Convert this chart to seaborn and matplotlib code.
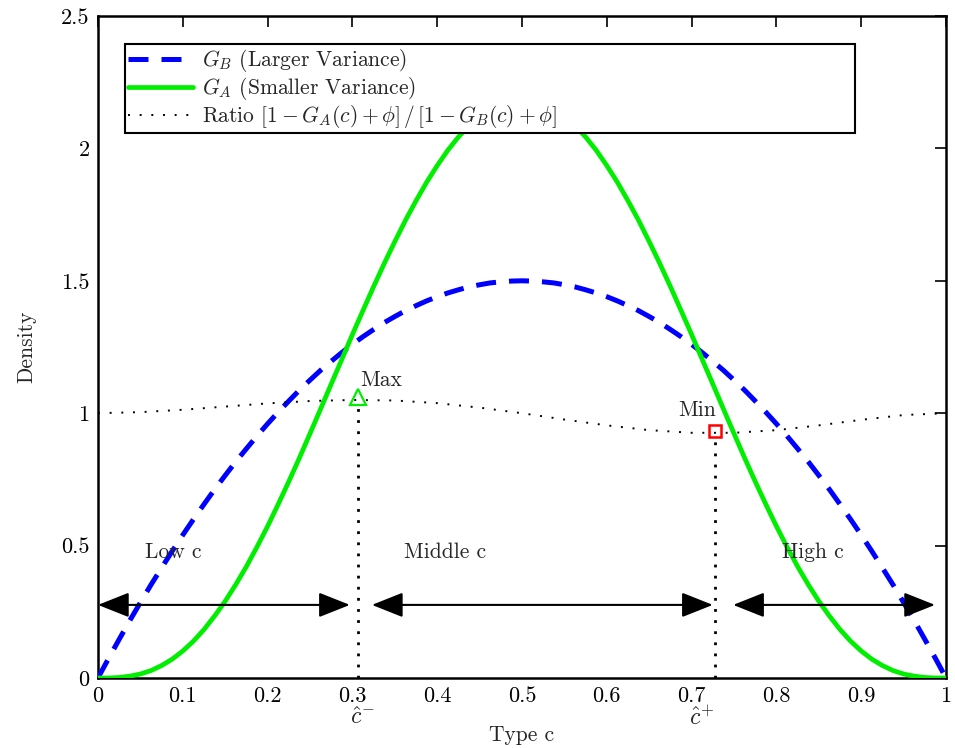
import matplotlib
matplotlib.use("Agg")
import matplotlib.pyplot as plt
import pandas as pd
import seaborn as sns

# grid of types c
c_grid = [0.0, 0.0125, 0.025, 0.0375, 0.05, 0.0625, 0.075, 0.0875, 0.1, 0.1125,
          0.125, 0.1375, 0.15, 0.1625, 0.175, 0.1875, 0.2, 0.2125, 0.225, 0.2375,
          0.25, 0.2625, 0.275, 0.2875, 0.3, 0.3125, 0.325, 0.3375, 0.35, 0.3625,
          0.375, 0.3875, 0.4, 0.4125, 0.425, 0.4375, 0.45, 0.4625, 0.475, 0.4875,
          0.5, 0.5125, 0.525, 0.5375, 0.55, 0.5625, 0.575, 0.5875, 0.6, 0.6125,
          0.625, 0.6375, 0.65, 0.6625, 0.675, 0.6875, 0.7, 0.7125, 0.725, 0.7375,
          0.75, 0.7625, 0.775, 0.7875, 0.8, 0.8125, 0.825, 0.8375, 0.85, 0.8625,
          0.875, 0.8875, 0.9, 0.9125, 0.925, 0.9375, 0.95, 0.9625, 0.975, 0.9875, 1.0]

# G_B density (larger variance)
gb_density = [0.0, 0.074, 0.146, 0.217, 0.285, 0.352, 0.416, 0.479, 0.540, 0.599,
              0.656, 0.712, 0.765, 0.817, 0.866, 0.914, 0.960, 1.004, 1.046, 1.087,
              1.125, 1.162, 1.196, 1.229, 1.260, 1.289, 1.316, 1.342, 1.365, 1.387,
              1.406, 1.424, 1.440, 1.454, 1.466, 1.477, 1.485, 1.492, 1.496, 1.499,
              1.500, 1.499, 1.496, 1.492, 1.485, 1.477, 1.466, 1.454, 1.440, 1.424,
              1.406, 1.387, 1.365, 1.342, 1.316, 1.289, 1.260, 1.229, 1.196, 1.162,
              1.125, 1.087, 1.046, 1.004, 0.960, 0.914, 0.866, 0.817, 0.765, 0.712,
              0.656, 0.599, 0.540, 0.479, 0.416, 0.352, 0.285, 0.217, 0.146, 0.074, 0.0]

# G_A density (smaller variance)
ga_density = [0.0, 0.000, 0.002, 0.007, 0.015, 0.028, 0.047, 0.071, 0.102, 0.139,
              0.183, 0.234, 0.290, 0.353, 0.421, 0.495, 0.573, 0.656, 0.742, 0.831,
              0.923, 1.016, 1.110, 1.203, 1.297, 1.388, 1.478, 1.565, 1.648, 1.728,
              1.802, 1.872, 1.935, 1.993, 2.043, 2.087, 2.123, 2.151, 2.171, 2.183,
              2.188, 2.183, 2.171, 2.151, 2.123, 2.087, 2.043, 1.993, 1.935, 1.872,
              1.802, 1.728, 1.648, 1.565, 1.478, 1.388, 1.297, 1.203, 1.110, 1.016,
              0.923, 0.831, 0.742, 0.656, 0.573, 0.495, 0.421, 0.353, 0.290, 0.234,
              0.183, 0.139, 0.102, 0.071, 0.047, 0.028, 0.015, 0.007, 0.002, 0.000, 0.0]

# ratio curve
ratio_c = [0.0, 0.05, 0.1, 0.15, 0.2, 0.25, 0.3, 0.35, 0.4, 0.45, 0.5,
           0.55, 0.6, 0.65, 0.7, 0.75, 0.8, 0.85, 0.9, 0.95, 1.0]
ratio_vals = [1.000, 1.004, 1.013, 1.025, 1.037, 1.046, 1.050, 1.048, 1.038, 1.021, 1.000,
              0.976, 0.954, 0.936, 0.926, 0.926, 0.936, 0.954, 0.975, 0.993, 1.000]

max_point = (0.307, 1.061)
min_point = (0.727, 0.931)

regions = ["Low c", "Middle c", "High c"]
region_text_x = [0.055, 0.361, 0.807]
arrow_spans = [(0.0, 0.297), (0.323, 0.725), (0.749, 0.987)]

sns.set_theme(style="white")
plt.rcParams["font.family"] = ["cmr10", "DejaVu Serif"]
plt.rcParams["mathtext.fontset"] = "cm"
plt.rcParams["axes.formatter.use_mathtext"] = True
plt.rcParams["axes.unicode_minus"] = False

fs = 15.5

fig = plt.figure(figsize=(9.55, 7.48), dpi=100)
ax = fig.add_axes([0.1026, 0.0936, 0.888, 0.885])

df_b = pd.DataFrame({"c": c_grid, "density": gb_density})
df_a = pd.DataFrame({"c": c_grid, "density": ga_density})
df_r = pd.DataFrame({"c": ratio_c, "ratio": ratio_vals})

sns.lineplot(data=df_b, x="c", y="density", ax=ax, color="#0000ff", lw=3.6,
             label="$G_B$ (Larger Variance)", zorder=3)
sns.lineplot(data=df_a, x="c", y="density", ax=ax, color="#00ee00", lw=3.4,
             label="$G_A$ (Smaller Variance)", zorder=3)
sns.lineplot(data=df_r, x="c", y="ratio", ax=ax, color="black", lw=1.4,
             label=r"Ratio $[1-G_A(c)+\phi]\,/\,[1-G_B(c)+\phi]$", zorder=3)

lines = ax.get_lines()
lines[0].set_dashes((4, 2.6))
lines[0].set_dash_capstyle("butt")
lines[2].set_dashes((1, 5))

# vertical markers for cutoffs
ax.plot([max_point[0], max_point[0]], [0, max_point[1] - 0.03], color="black",
        lw=2, dashes=(1, 3), zorder=4)
ax.plot([min_point[0], min_point[0]], [0, min_point[1] - 0.02], color="black",
        lw=2, dashes=(1, 3), zorder=4)
ax.plot(*max_point, marker="^", ms=11, mfc="none", mec="#00ee00", mew=1.6, zorder=5)
ax.plot(*min_point, marker="s", ms=9, mfc="none", mec="red", mew=1.8, zorder=5)
ax.text(0.309, 1.125, "Max", fontsize=fs, ha="left", va="center")
ax.text(0.729, 1.012, "Min", fontsize=fs, ha="right", va="center")

# region arrows and labels
for (x0, x1) in arrow_spans:
    ax.annotate("", xy=(x0, 0.276), xytext=(x1, 0.276),
                arrowprops=dict(arrowstyle="<|-|>,head_length=0.88,head_width=0.35",
                                color="black", lw=1.5, shrinkA=0, shrinkB=0,
                                mutation_scale=22),
                zorder=6)
for name, tx in zip(regions, region_text_x):
    ax.text(tx, 0.476, name, fontsize=fs, ha="left", va="center")

# cutoff labels below the axis
ax.text(0.312, -0.15, r"$\hat{c}^{-}$", fontsize=17, ha="center", va="center", clip_on=False)
ax.text(0.712, -0.15, r"$\hat{c}^{+}$", fontsize=17, ha="center", va="center", clip_on=False)

ax.set_xlim(0, 1)
ax.set_ylim(0, 2.5)
ax.set_xticks([0, 0.1, 0.2, 0.3, 0.4, 0.5, 0.6, 0.7, 0.8, 0.9, 1])
ax.set_xticklabels(["0", "0.1", "0.2", "0.3", "0.4", "0.5", "0.6", "0.7", "0.8", "0.9", "1"])
ax.set_yticks([0, 0.5, 1, 1.5, 2, 2.5])
ax.set_yticklabels(["0", "0.5", "1", "1.5", "2", "2.5"])
ax.tick_params(direction="in", length=8, width=1.2, top=True, right=True,
               labelsize=16, pad=6, colors="black")
for s in ax.spines.values():
    s.set_color("black")
    s.set_linewidth(1.8)
ax.set_xlabel("Type c", fontsize=fs, labelpad=14)
ax.set_ylabel("Density", fontsize=fs, labelpad=18)

leg = ax.legend(loc="upper left", bbox_to_anchor=(0.032, 0.846, 0.861, 0.112),
                mode="expand", frameon=True, fancybox=False, fontsize=fs,
                handlelength=3.0, borderpad=0.15, labelspacing=0.05,
                handletextpad=0.4, borderaxespad=0)
leg.get_frame().set_edgecolor("black")
leg.get_frame().set_linewidth(1.5)
leg.get_frame().set_alpha(1)
leg.set_zorder(10)

fig.savefig("out.png", dpi=100)
